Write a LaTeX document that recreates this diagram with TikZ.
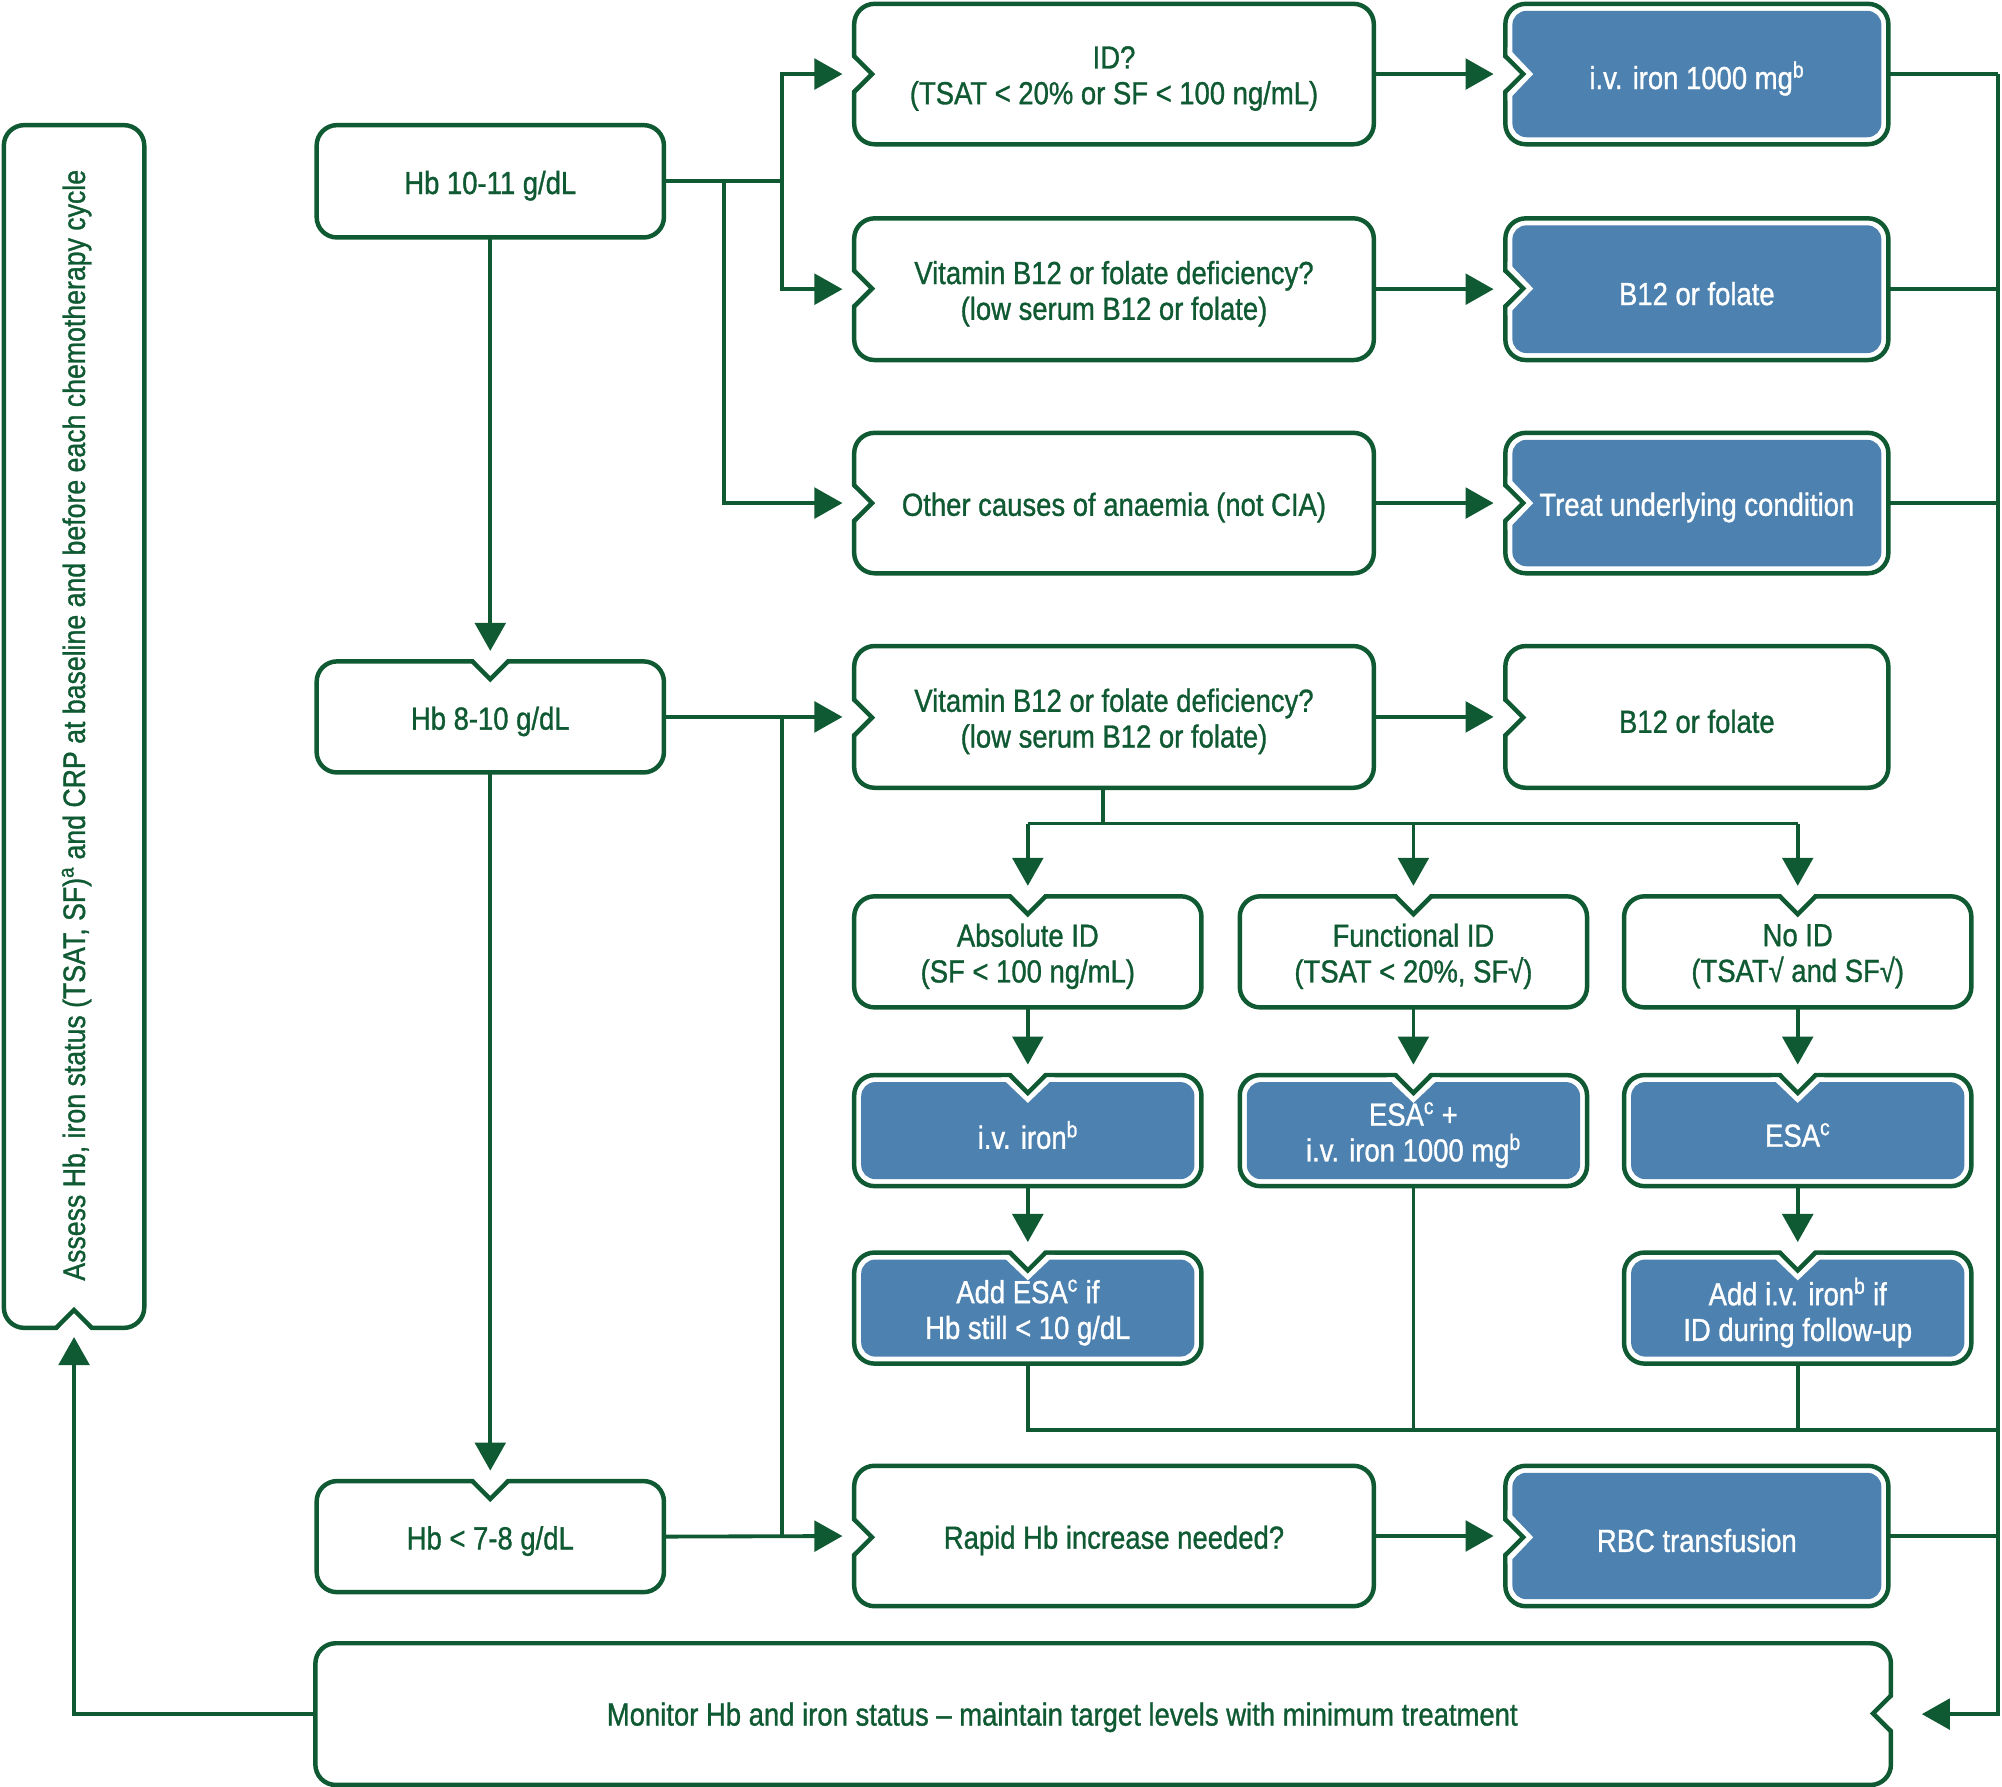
\documentclass[tikz,border=0pt]{standalone}
\usepackage{fontspec}
\setmainfont{Liberation Sans}[FakeStretch=0.86,FakeBold=1]
\usetikzlibrary{arrows.meta,calc}
\definecolor{dg}{HTML}{0F5A32}
\definecolor{bl}{HTML}{4D82B0}
\newcommand\nch[7]{%
\def\npt##1##2{({#1+(##1)*(#3)+(##2)*(#5)},{#2+(##1)*(#4)+(##2)*(#6)})}%
\ifnum#7=1 \fill[white] \npt{1.75}{-21} -- \npt{21.8}{0} -- \npt{1.75}{21} -- cycle; \fi
\fill[white] \npt{-3}{-14} -- \npt{14}{0} -- \npt{-3}{14} -- cycle;
\draw[dg,line width=3.5pt,miter limit=10] \npt{0}{-14} -- \npt{14}{0} -- \npt{0}{14};}
\newcommand\bx[9]{%
\path[draw=dg,line width=3.5pt,fill=white,rounded corners=16] (#3,#4) rectangle (#5,#6);
\ifnum#8=1 \path[fill=bl,rounded corners=11] (#3+5.5,#4+5.5) rectangle (#5-5.5,#6-5.5); \fi
\ifcase#2\or \nch{#3}{#7}{1}{0}{0}{1}{#8}\or \nch{#7}{#4}{0}{1}{1}{0}{#8}\or \nch{#7}{#6}{0}{-1}{1}{0}{#8}\or \nch{#5}{#7}{-1}{0}{0}{1}{#8}\fi
\node[inner sep=0pt,minimum width={(#5-#3)*1pt},minimum height={(#6-#4)*1pt}] (#1) at ({(#3+#5)/2},{(#4+#6)/2}) {};
\ifnum#8=1
\node[txt,white,yshift=-3.5pt] at (#1.center) {#9};
\else
\node[txt,yshift=-3.5pt] at (#1.center) {#9};
\fi}
\begin{document}
\begin{tikzpicture}[x=1pt,y=-1pt,
 txt/.style={inner sep=0pt,align=center,text=dg,font=\fontsize{25}{28}\selectfont},
 ln/.style={draw=dg,line width=3pt},
 ar/.style={ln,-{Triangle[length=22pt,width=24pt]}}]
\useasboundingbox (0,0) rectangle (1568,1399.6);
% boxes
\bx{sc}{3}{3}{98}{113}{1040}{58}{0}{}
\node[txt,rotate=90,font=\fontsize{24.3}{28}\selectfont] at (60,568) {Assess Hb, iron status (TSAT, SF)\textsuperscript{a} and CRP at baseline and before each chemotherapy cycle};
\bx{h1}{0}{248}{98}{520}{186}{0}{0}{Hb 10-11 g/dL}
\bx{h2}{2}{248}{518}{520}{605}{384}{0}{Hb 8-10 g/dL}
\bx{h3}{2}{248}{1160}{520}{1247}{384}{0}{Hb < 7-8 g/dL}
\bx{id}{1}{669}{3}{1076}{113}{58}{0}{ID?\\(TSAT < 20\% or SF < 100 ng/mL)}
\bx{vb1}{1}{669}{171}{1076}{282}{226}{0}{Vitamin B12 or folate deficiency?\\(low serum B12 or folate)}
\bx{oc}{1}{669}{339}{1076}{449}{394}{0}{Other causes of anaemia (not CIA)}
\bx{vb2}{1}{669}{506}{1076}{617}{562}{0}{Vitamin B12 or folate deficiency?\\(low serum B12 or folate)}
\bx{rh}{1}{669}{1148}{1076}{1258}{1204}{0}{Rapid Hb increase needed?}
\bx{iv}{1}{1179}{3}{1479}{113}{58}{1}{i.v. iron 1000 mg\textsuperscript{b}}
\bx{bf1}{1}{1179}{171}{1479}{282}{226}{1}{B12 or folate}
\bx{tu}{1}{1179}{339}{1479}{449}{394}{1}{Treat underlying condition}
\bx{bf2}{1}{1179}{506}{1479}{617}{562}{0}{B12 or folate}
\bx{rbc}{1}{1179}{1148}{1479}{1258}{1204}{1}{RBC transfusion}
\bx{ab}{2}{669}{702}{941}{789}{805}{0}{Absolute ID\\(SF < 100 ng/mL)}
\bx{fu}{2}{971}{702}{1243}{789}{1107}{0}{Functional ID\\(TSAT < 20\%, SF√)}
\bx{no}{2}{1272}{702}{1544}{789}{1408}{0}{No ID\\(TSAT√ and SF√)}
\bx{iv2}{2}{669}{842}{941}{929}{805}{1}{i.v. iron\textsuperscript{b}}
\bx{esp}{2}{971}{842}{1243}{929}{1107}{1}{ESA\textsuperscript{c} +\\i.v. iron 1000 mg\textsuperscript{b}}
\bx{esa}{2}{1272}{842}{1544}{929}{1408}{1}{ESA\textsuperscript{c}}
\bx{ade}{2}{669}{981}{941}{1068}{805}{1}{Add ESA\textsuperscript{c} if\\Hb still < 10 g/dL}
\bx{adi}{2}{1272}{981}{1544}{1068}{1408}{1}{Add i.v. iron\textsuperscript{b} if\\ID during follow-up}
\bx{mon}{4}{247}{1287}{1481}{1398}{1342}{0}{}
\node[txt] at (832,1345) {Monitor Hb and iron status – maintain target levels with minimum treatment};
% connectors
\coordinate (rx) at (1565,0);
\coordinate (bar) at (864,645);
\coordinate (j) at (0,1120);
\draw[ln] (h1.east) -- ++(92,0);
\draw[ar,shorten >=9pt] ($(h1.east)+(92,0)$) |- (id.west);
\draw[ar,shorten >=9pt] ($(h1.east)+(92,0)$) |- (vb1.west);
\draw[ar,shorten >=9pt] ($(h1.east)+(47,0)$) |- (oc.west);
\draw[ar,shorten >=9pt] (id.east) -- (iv.west);
\draw[ar,shorten >=9pt] (vb1.east) -- (bf1.west);
\draw[ar,shorten >=9pt] (oc.east) -- (tu.west);
\draw[ar,shorten >=9pt] (vb2.east) -- (bf2.west);
\draw[ar,shorten >=9pt] (rh.east) -- (rbc.west);
\draw[ar,shorten >=8pt] (h1.south) -- (h2.north);
\draw[ar,shorten >=8pt] (h2.south) -- (h3.north);
\draw[ar,shorten >=9pt] (h2.east) -- (vb2.west);
\draw[ar,shorten >=9pt] (h3.east) -- (rh.west);
\draw[ln] ($(h2.east)+(92,0)$) -- ($(h3.east)+(92,0)$);
\draw[ln] (vb2.south -| bar) -- (bar);
\draw[ln] (bar -| ab.north) -- (bar -| no.north);
\draw[ar,shorten >=8pt] (bar -| ab.north) -- (ab.north);
\draw[ar,shorten >=8pt] (bar -| fu.north) -- (fu.north);
\draw[ar,shorten >=8pt] (bar -| no.north) -- (no.north);
\draw[ar,shorten >=8pt] (ab.south) -- (iv2.north);
\draw[ar,shorten >=8pt] (fu.south) -- (esp.north);
\draw[ar,shorten >=8pt] (no.south) -- (esa.north);
\draw[ar,shorten >=8pt] (iv2.south) -- (ade.north);
\draw[ar,shorten >=8pt] (esa.south) -- (adi.north);
\draw[ln] (ade.south) -- (ade.south |- j) -- (j -| rx);
\draw[ln] (esp.south) -- (esp.south |- j);
\draw[ln] (adi.south) -- (adi.south |- j);
\draw[ln] (iv.east) -- (iv.east -| rx);
\draw[ln] (bf1.east) -- (bf1.east -| rx);
\draw[ln] (tu.east) -- (tu.east -| rx);
\draw[ln] (rbc.east) -- (rbc.east -| rx);
\draw[ar,shorten >=24pt] (iv.east -| rx) -- (mon.east -| rx) -- (mon.east);
\draw[ar,shorten >=7pt] (mon.west) -| (sc.south);
\end{tikzpicture}
\end{document}
